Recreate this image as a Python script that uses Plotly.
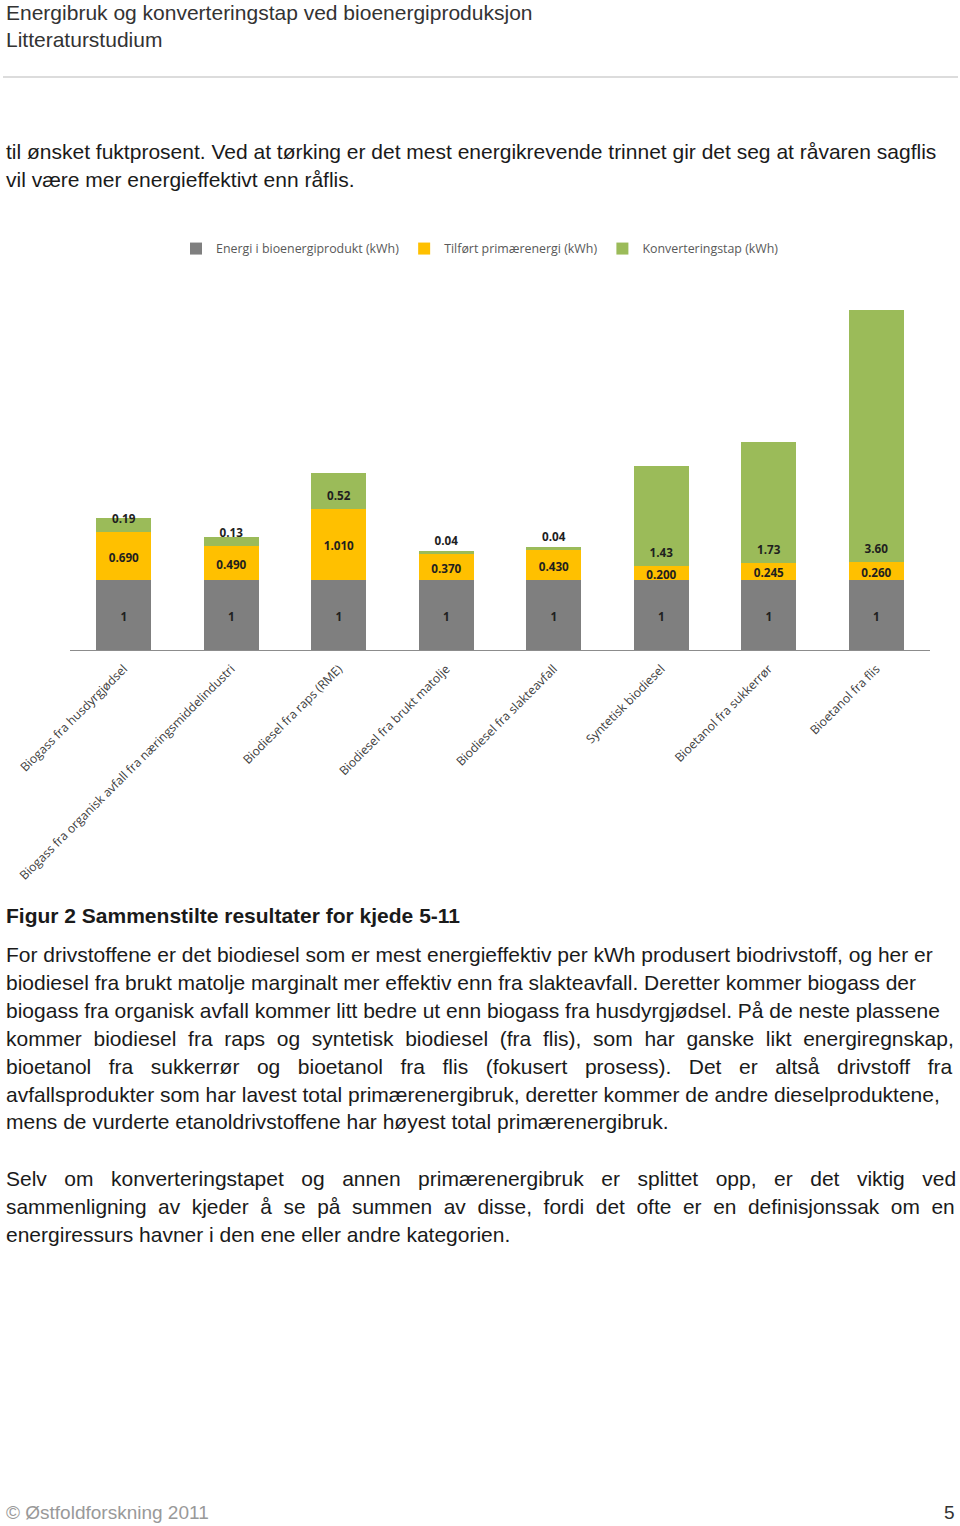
import plotly.graph_objects as go

W, H = 960, 1526

categories = [
    "Biogass fra husdyrgjødsel",
    "Biogass fra organisk avfall fra næringsmiddelindustri",
    "Biodiesel fra raps (RME)",
    "Biodiesel fra brukt matolje",
    "Biodiesel fra slakteavfall",
    "Syntetisk biodiesel",
    "Bioetanol fra sukkerrør",
    "Bioetanol fra flis",
]
energi = [1, 1, 1, 1, 1, 1, 1, 1]
tilfort = [0.690, 0.490, 1.010, 0.370, 0.430, 0.200, 0.245, 0.260]
tilfort_lbl = ["0.690", "0.490", "1.010", "0.370", "0.430", "0.200", "0.245", "0.260"]
tap = [0.19, 0.13, 0.52, 0.04, 0.04, 1.43, 1.73, 3.60]
tap_lbl = ["0.19", "0.13", "0.52", "0.04", "0.04", "1.43", "1.73", "3.60"]

series_names = ["Energi i bioenergiprodukt (kWh)", "Tilført primærenergi (kWh)", "Konverteringstap (kWh)"]
colors = ["#7f7f7f", "#ffc000", "#9bbb59"]

header_lines = ["Energibruk og konverteringstap ved bioenergiproduksjon", "Litteraturstudium"]
intro_lines = [
    "til ønsket fuktprosent. Ved at tørking er det mest energikrevende trinnet gir det seg at råvaren sagflis",
    "vil være mer energieffektivt enn råflis.",
]
caption = "Figur 2 Sammenstilte resultater for kjede 5-11"
para1 = [
    "For drivstoffene er det biodiesel som er mest energieffektiv per kWh produsert biodrivstoff, og her er",
    "biodiesel fra brukt matolje marginalt mer effektiv enn fra slakteavfall. Deretter kommer biogass der",
    "biogass fra organisk avfall kommer litt bedre ut enn biogass fra husdyrgjødsel. På de neste plassene",
    "kommer biodiesel fra raps og syntetisk biodiesel (fra flis), som har ganske likt energiregnskap,",
    "bioetanol fra sukkerrør og bioetanol fra flis (fokusert prosess). Det er altså drivstoff fra",
    "avfallsprodukter som har lavest total primærenergibruk, deretter kommer de andre dieselproduktene,",
    "mens de vurderte etanoldrivstoffene har høyest total primærenergibruk.",
]
para1_extra = [0, 0, 0, 1, 2, 0, 0]   # extra spaces per word gap (justified look)
para2 = [
    "Selv om konverteringstapet og annen primærenergibruk er splittet opp, er det viktig ved",
    "sammenligning av kjeder å se på summen av disse, fordi det ofte er en definisjonssak om en",
    "energiressurs havner i den ene eller andre kategorien.",
]
para2_extra = [2, 1, 0]
footer_left = "© Østfoldforskning 2011"
footer_right = "5"

CHART_FONT = "Open Sans, Lato, sans-serif"
BODY_FONT = "Liberation Sans, Arial, sans-serif"
LBL_SHIFT = -0.04  # small downward nudge of value labels

fig = go.Figure()
for name, vals, col in zip(series_names, [energi, tilfort, tap], colors):
    fig.add_trace(go.Bar(x=categories, y=vals, name=name, marker=dict(color=col, line=dict(width=0)),
                         hoverinfo="skip"))

lbl_font = dict(family=CHART_FONT, size=11.7, color="#1f1f1f", weight="bold")
fig.add_trace(go.Scatter(x=categories, y=[v / 2 + LBL_SHIFT for v in energi], mode="text",
                         text=[str(v) for v in energi], textfont=lbl_font, showlegend=False, hoverinfo="skip"))
fig.add_trace(go.Scatter(x=categories, y=[e + t / 2 + LBL_SHIFT for e, t in zip(energi, tilfort)], mode="text",
                         text=tilfort_lbl, textfont=lbl_font, showlegend=False, hoverinfo="skip"))
fig.add_trace(go.Scatter(x=categories, y=[e + t + 0.21 + LBL_SHIFT for e, t in zip(energi, tilfort)], mode="text",
                         text=tap_lbl, textfont=lbl_font, showlegend=False, hoverinfo="skip"))


def py(px):
    return 1 - px / H


fig.update_layout(
    width=W, height=H, margin=dict(l=0, r=0, t=0, b=0, autoexpand=False),
    paper_bgcolor="white", plot_bgcolor="white",
    barmode="stack", bargap=0.49,
    showlegend=True,
    legend=dict(orientation="h", x=176 / W, xanchor="left", y=py(249), yanchor="middle",
                font=dict(family=CHART_FONT, size=12.4, color="#595959"), traceorder="normal",
                itemwidth=30, bgcolor="rgba(0,0,0,0)", borderwidth=0),
    xaxis=dict(domain=[70 / W, 930 / W], showline=True, linecolor="#8c8c8c", linewidth=1,
               tickangle=-45, tickfont=dict(family=CHART_FONT, size=12.2, color="#404040"),
               showgrid=False, zeroline=False, ticks="", ticklabelstandoff=6, fixedrange=True,
               automargin=False),
    yaxis=dict(domain=[py(650), py(300)], range=[0, 5], visible=False, fixedrange=True,
               automargin=False),
)

annotations = []


def add_text(txt, x, ypx, size=21, color="#1a1a1a", xanchor="left", bold=False):
    annotations.append(dict(text=txt, x=x / W, y=py(ypx), xref="paper", yref="paper",
                            xanchor=xanchor, yanchor="middle", showarrow=False,
                            font=dict(family=BODY_FONT, size=size, color=color,
                                      weight="bold" if bold else "normal")))


def justify(line, extra):
    return (" " + "\u00a0" * extra).join(line.split(" "))


add_text(header_lines[0], 4, 12, color="#333333")
add_text(header_lines[1], 4, 39, color="#333333")
add_text(intro_lines[0], 4, 151)
add_text(intro_lines[1], 4, 179)
add_text(caption, 4, 915, bold=True)
for i, (line, ex) in enumerate(zip(para1, para1_extra)):
    add_text(justify(line, ex), 4, 955 + i * 27.8)
for i, (line, ex) in enumerate(zip(para2, para2_extra)):
    add_text(justify(line, ex), 4, 1178 + i * 28, size=20.9 if ex == 1 else 21)
add_text(footer_left, 4, 1512, size=19, color="#999999")
add_text(footer_right, 957, 1512, size=19, color="#333333", xanchor="right")

fig.update_layout(annotations=annotations)
fig.add_shape(type="line", xref="paper", yref="paper", x0=3 / W, x1=958 / W, y0=py(77), y1=py(77),
              line=dict(color="#d0d0d0", width=1.5))

fig.write_html("out.html", config={"displayModeBar": False},
               post_script="document.body.style.margin='0';")
